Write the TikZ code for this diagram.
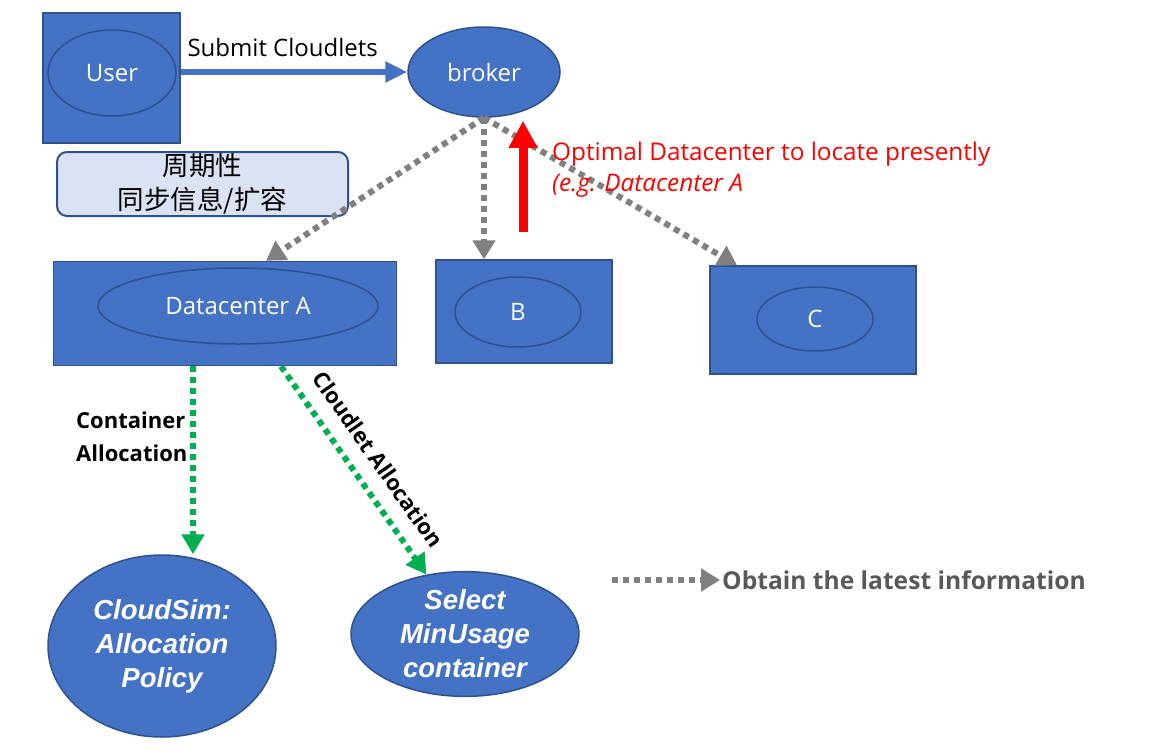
\documentclass[tikz,border=0pt]{standalone}
\usepackage{fontspec}
\setmainfont{Open Sans}
\newfontfamily\cjk{Noto Sans CJK SC}
\newfontfamily\policyfont{Liberation Sans}
\usetikzlibrary{arrows.meta}
\usetikzlibrary{shapes.geometric}
\usetikzlibrary{positioning}
\definecolor{boxblue}{HTML}{4472C4}
\definecolor{edgeblue}{HTML}{2F528F}
\definecolor{paleblue}{HTML}{DAE3F3}
\definecolor{linkgray}{HTML}{808080}
\definecolor{allocgreen}{HTML}{00B050}
\definecolor{keygray}{HTML}{595959}
\tikzset{site/.style 2 args = {draw = edgeblue, fill = boxblue, line width = 1.5pt, inner sep = 0,
                               minimum width = #1, minimum height = #2}}
\tikzset{hub/.style 2 args = {ellipse, draw = edgeblue, fill = boxblue, line width = 1.5pt, inner sep = 0,
                              text = white, font = \fontsize{24}{28}\selectfont,
                              minimum width = #1, minimum height = #2}}
\tikzset{task/.style 2 args = {ellipse, draw = edgeblue, fill = boxblue, line width = 1.5pt, inner sep = 0,
                               text = white, align = center, font = \policyfont\bfseries\itshape\fontsize{27.5}{34}\selectfont,
                               minimum width = #1, minimum height = #2}}
\tikzset{fetch/.style = {draw = linkgray, line width = 6pt, dash pattern = on 6pt off 5pt,
                         -{Triangle[length = 19pt, width = 22pt]}}}
\tikzset{alloc/.style = {draw = allocgreen, line width = 6pt, dash pattern = on 6pt off 5pt,
                         -{Triangle[length = 20pt, width = 22pt]}}}
\tikzset{submit/.style = {draw = boxblue, line width = 6pt, -{Triangle[length = 22pt, width = 20pt]}}}
\tikzset{report/.style = {draw = red, line width = 9pt, -{Triangle[length = 27pt, width = 27pt]}}}
\tikzset{tag/.style = {inner sep = 0, font = \bfseries\fontsize{22}{33}\selectfont}}

\begin{document}
\begin{tikzpicture}[x = 1pt, y = -1pt]
    \useasboundingbox (0, 0) rectangle (1166, 755);

    \node [site = {137}{130}] (user) at (111.5, 78) {};
    \node [hub = {128}{86}] (userhub) at (112, 73) {User};
    \node [hub = {152}{90}] (broker) at (484, 72) {broker};

    \node [draw = edgeblue, fill = paleblue, line width = 2pt, rounded corners = 10pt, inner sep = 0,
           minimum width = 291, minimum height = 64, align = center,
           font = \cjk\fontsize{26.5}{34}\selectfont] (sync) at (202.5, 184) {周期性\\同步信息/扩容};

    \node [site = {343}{104}] (dcA) at (225, 313.5) {};
    \node [hub = {280}{76}] (dcAhub) at (238, 306) {Datacenter A};
    \node [site = {176}{103}] (dcB) at (524, 311.5) {};
    \node [hub = {126}{70}] (dcBhub) at (518, 312) {B};
    \node [site = {206}{108}] (dcC) at (813, 320) {};
    \node [hub = {116}{64}] (dcChub) at (815, 319) {C};

    \node [task = {228}{182}] (policy) at (162, 646) {CloudSim:\\Allocation\\Policy};
    \node [task = {228}{118}] (select) at (465, 634) {Select\\MinUsage\\container};

    \draw [submit] (user.east |- broker.west) -- (broker.west)
        node [pos = 0.45, above = 12pt, inner sep = 0, font = \fontsize{24}{26}\selectfont] {Submit Cloudlets};

    \draw [fetch] (broker.south) -- ([xshift = 41pt] dcA.north);
    \draw [fetch] (broker.south) -- (broker.south |- dcB.north);
    \draw [fetch] (broker.south) -- ([xshift = -76pt] dcC.north);

    \coordinate (pick) at (523, 232);
    \draw [report] (pick) -- ([yshift = -3pt] pick |- broker.south);
    \node [anchor = west, align = left, inner sep = 0, text = red,
           font = \fontsize{24.3}{31}\selectfont] (optimal) at (552, 170)
        {Optimal Datacenter to locate presently\\\textit{(e.g. Datacenter A}};

    \coordinate (ca) at ([xshift = -32pt] dcA.south);
    \coordinate (cl) at ([xshift = 56pt] dcA.south);
    \draw [alloc] (ca) -- (ca |- policy.north);
    \draw [alloc] (cl) -- (select.123)
        node [pos = 0.52, sloped, above = 15pt, tag] {Cloudlet Allocation};
    \node [tag, anchor = west, align = left] (container) at (76, 437) {Container\\Allocation};

    \coordinate (key) at (612, 580);
    \node [anchor = west, inner sep = 2pt, text = keygray,
           font = \bfseries\fontsize{24.6}{28}\selectfont] (keytext) at (720, 580) {Obtain the latest information};
    \draw [fetch] (key) -- (keytext.west);
\end{tikzpicture}
\end{document}
